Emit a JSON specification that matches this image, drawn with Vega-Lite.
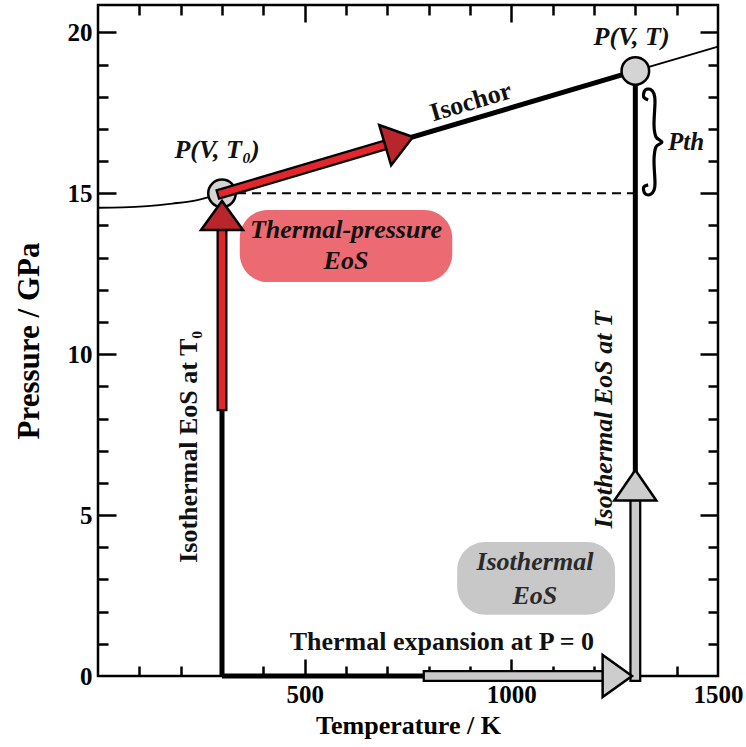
{
  "$schema": "https://vega.github.io/schema/vega-lite/v6.json",
  "width": 620,
  "height": 671,
  "autosize": {"type": "none"},
  "padding": {"left": 98, "top": 5, "right": 28, "bottom": 71},
  "background": "white",
  "config": {
    "view": {"stroke": "black", "strokeWidth": 2.5},
    "font": "Liberation Serif",
    "axis": {
      "domain": false, "grid": false, "tickColor": "black", "tickWidth": 2.5,
      "labelFont": "Liberation Serif", "labelFontSize": 25, "labelFontWeight": "bold", "labelColor": "black",
      "titleFont": "Liberation Serif", "titleFontWeight": "bold", "titleColor": "black",
      "labelFlush": false, "labelOverlap": false
    }
  },
  "datasets": {
    "curve": [
      {"T": 0, "P": 14.55}, {"T": 60, "P": 14.56}, {"T": 120, "P": 14.6}, {"T": 180, "P": 14.68},
      {"T": 240, "P": 14.79}, {"T": 300, "P": 15.0}, {"T": 1300, "P": 18.8}, {"T": 1500, "P": 19.56}
    ],
    "thick": [
      {"T": 300, "P": 0, "T2": 300, "P2": 15},
      {"T": 300, "P": 0, "T2": 800, "P2": 0},
      {"T": 300, "P": 15, "T2": 1300, "P2": 18.8},
      {"T": 1300, "P": 0, "T2": 1300, "P2": 18.8}
    ],
    "dash": [{"T": 300, "P": 15, "T2": 1300, "P2": 15}],
    "grayShaft": [
      {"T": 800, "P": 0, "T2": 1225, "P2": 0},
      {"T": 1300, "P": 0, "T2": 1300, "P2": 5.45}
    ],
    "redShaft": [
      {"T": 300, "P": 8.4, "T2": 300, "P2": 13.9},
      {"T": 300, "P": 15, "T2": 700, "P2": 16.52}
    ],
    "grayHeadUp": [{"T": 1300, "P": 6.4}],
    "grayHeadRight": [{"T": 1292, "P": 0}],
    "redHeadUp": [{"T": 300, "P": 14.76}],
    "redHeadSlant": [{"T": 762, "P": 16.75}],
    "circles": [{"T": 300, "P": 15}, {"T": 1300, "P": 18.8}],
    "redPill": [{"T": 343, "P": 14.48, "T2": 857, "P2": 12.24}],
    "grayPill": [{"T": 869, "P": 4.16, "T2": 1251, "P2": 1.9}],
    "brace": [
      {"o": 1, "T": 1331, "P": 17.9}, {"o": 2, "T": 1320, "P": 18.0}, {"o": 3, "T": 1323.4, "P": 18.2},
      {"o": 4, "T": 1336, "P": 18.23}, {"o": 5, "T": 1345.2, "P": 18.09}, {"o": 6, "T": 1347.6, "P": 17.84},
      {"o": 7, "T": 1345.2, "P": 17.12}, {"o": 8, "T": 1350, "P": 16.75}, {"o": 9, "T": 1364.5, "P": 16.59},
      {"o": 10, "T": 1350, "P": 16.44}, {"o": 11, "T": 1345.2, "P": 16.03}, {"o": 12, "T": 1347.6, "P": 15.32},
      {"o": 13, "T": 1345.2, "P": 15.1}, {"o": 14, "T": 1336, "P": 14.96}, {"o": 15, "T": 1323.4, "P": 14.99},
      {"o": 16, "T": 1320, "P": 15.18}, {"o": 17, "T": 1331, "P": 15.26}
    ],
    "italicLabels": [
      {"label": "P(V, T₀)", "T": 288, "P": 16.34},
      {"label": "P(V, T)", "T": 1291, "P": 19.87},
      {"label": "Thermal-pressure", "T": 600, "P": 13.86},
      {"label": "EoS", "T": 600, "P": 12.9}
    ],
    "grayLabels": [
      {"label": "Isothermal", "T": 1057, "P": 3.54},
      {"label": "EoS", "T": 1057, "P": 2.49}
    ],
    "pth": [{"label": "Pth", "T": 1379, "P": 16.58}],
    "expansion": [{"label": "Thermal expansion at P = 0", "T": 832, "P": 1.06}],
    "isochor": [{"label": "Isochor", "T": 902, "P": 17.84}],
    "isoT0": [{"label": "Isothermal EoS at T₀", "T": 220, "P": 7.12}],
    "isoT": [{"label": "Isothermal EoS at T", "T": 1224, "P": 7.96}]
  },
  "encoding": {
    "x": {"field": "T", "type": "quantitative", "scale": {"domain": [0, 1500], "nice": false, "zero": false}, "axis": null},
    "y": {"field": "P", "type": "quantitative", "scale": {"domain": [0, 20.85], "nice": false, "zero": false}, "axis": null}
  },
  "layer": [
    {
      "data": {"name": "redPill"},
      "mark": {"type": "rect", "color": "#ec6a72", "cornerRadius": 28},
      "encoding": {
        "x": {"field": "T", "type": "quantitative", "scale": {"domain": [0, 1500], "nice": false, "zero": false},
          "axis": {"orient": "bottom", "values": [500, 1000, 1500], "format": "d", "ticks": false, "labelPadding": 6, "title": "Temperature / K", "titleFontSize": 26, "titlePadding": 5}},
        "y": {"field": "P", "type": "quantitative", "scale": {"domain": [0, 20.85], "nice": false, "zero": false},
          "axis": {"orient": "left", "values": [0, 5, 10, 15, 20], "format": "d", "ticks": false, "labelPadding": 6, "title": "Pressure / GPa", "titleFontSize": 31, "titlePadding": 22}},
        "x2": {"field": "T2"},
        "y2": {"field": "P2"}
      }
    },
    {
      "data": {"name": "grayPill"},
      "mark": {"type": "rect", "color": "#c8c8c8", "cornerRadius": 28},
      "encoding": {
        "x": {"field": "T", "type": "quantitative", "scale": {"domain": [0, 1500], "nice": false, "zero": false},
          "axis": {"orient": "bottom", "values": [500, 1000], "labels": false, "tickSize": -17, "title": null}},
        "y": {"field": "P", "type": "quantitative", "scale": {"domain": [0, 20.85], "nice": false, "zero": false},
          "axis": {"orient": "left", "values": [5, 10, 15, 20], "labels": false, "tickSize": -18, "title": null}},
        "x2": {"field": "T2"},
        "y2": {"field": "P2"}
      }
    },
    {
      "data": {"name": "curve"},
      "mark": {"type": "line", "color": "black", "strokeWidth": 1.8, "interpolate": "monotone"},
      "encoding": {
        "x": {"field": "T", "type": "quantitative", "scale": {"domain": [0, 1500], "nice": false, "zero": false},
          "axis": {"orient": "bottom", "values": [100, 200, 300, 400, 600, 700, 800, 900, 1100, 1200, 1300, 1400], "labels": false, "tickSize": -10, "title": null}},
        "y": {"field": "P", "type": "quantitative", "scale": {"domain": [0, 20.85], "nice": false, "zero": false},
          "axis": {"orient": "left", "values": [1, 2, 3, 4, 6, 7, 8, 9, 11, 12, 13, 14, 16, 17, 18, 19], "labels": false, "tickSize": -10, "title": null}}
      }
    },
    {
      "data": {"name": "dash"},
      "mark": {"type": "rule", "color": "black", "strokeWidth": 2, "strokeDash": [9, 6]},
      "encoding": {
        "x": {"field": "T", "type": "quantitative", "scale": {"domain": [0, 1500], "nice": false, "zero": false},
          "axis": {"orient": "top", "values": [500, 1000], "labels": false, "tickSize": -17, "title": null}},
        "y": {"field": "P", "type": "quantitative", "scale": {"domain": [0, 20.85], "nice": false, "zero": false},
          "axis": {"orient": "right", "values": [5, 10, 15, 20], "labels": false, "tickSize": -18, "title": null}},
        "x2": {"field": "T2"},
        "y2": {"field": "P2"}
      }
    },
    {
      "data": {"name": "thick"},
      "mark": {"type": "rule", "color": "black", "strokeWidth": 5},
      "encoding": {
        "x": {"field": "T", "type": "quantitative", "scale": {"domain": [0, 1500], "nice": false, "zero": false},
          "axis": {"orient": "top", "values": [100, 200, 300, 400, 600, 700, 800, 900, 1100, 1200, 1300, 1400], "labels": false, "tickSize": -10, "title": null}},
        "y": {"field": "P", "type": "quantitative", "scale": {"domain": [0, 20.85], "nice": false, "zero": false},
          "axis": {"orient": "right", "values": [1, 2, 3, 4, 6, 7, 8, 9, 11, 12, 13, 14, 16, 17, 18, 19], "labels": false, "tickSize": -10, "title": null}},
        "x2": {"field": "T2"},
        "y2": {"field": "P2"}
      }
    },
    {
      "data": {"name": "brace"},
      "mark": {"type": "line", "color": "black", "strokeWidth": 3.2, "interpolate": "cardinal"},
      "encoding": {"order": {"field": "o", "type": "quantitative"}}
    },
    {
      "data": {"name": "grayShaft"},
      "mark": {"type": "rule", "color": "black", "strokeWidth": 12, "strokeCap": "square"},
      "encoding": {"x2": {"field": "T2"}, "y2": {"field": "P2"}}
    },
    {
      "data": {"name": "grayShaft"},
      "mark": {"type": "rule", "color": "#c9c9c9", "strokeWidth": 7.5, "strokeCap": "square"},
      "encoding": {"x2": {"field": "T2"}, "y2": {"field": "P2"}}
    },
    {
      "data": {"name": "grayHeadUp"},
      "mark": {"type": "point", "shape": "M0,0L-1,1.45L1,1.45Z", "size": 1764, "filled": true, "fill": "#cdcdcd", "stroke": "black", "strokeWidth": 2.5, "opacity": 1, "angle": 0},
      "encoding": {}
    },
    {
      "data": {"name": "grayHeadRight"},
      "mark": {"type": "point", "shape": "M0,0L-1,1.4L1,1.4Z", "size": 1764, "filled": true, "fill": "#cdcdcd", "stroke": "black", "strokeWidth": 2.5, "opacity": 1, "angle": 90},
      "encoding": {}
    },
    {
      "data": {"name": "circles"},
      "mark": {"type": "point", "shape": "circle", "size": 760, "filled": true, "fill": "#d4d4d4", "stroke": "black", "strokeWidth": 2.5, "opacity": 1},
      "encoding": {}
    },
    {
      "data": {"name": "redShaft"},
      "mark": {"type": "rule", "color": "black", "strokeWidth": 11, "strokeCap": "square"},
      "encoding": {"x2": {"field": "T2"}, "y2": {"field": "P2"}}
    },
    {
      "data": {"name": "redShaft"},
      "mark": {"type": "rule", "color": "#e3262b", "strokeWidth": 6.5, "strokeCap": "square"},
      "encoding": {"x2": {"field": "T2"}, "y2": {"field": "P2"}}
    },
    {
      "data": {"name": "redHeadUp"},
      "mark": {"type": "point", "shape": "M0,0L-1,1.38L1,1.38Z", "size": 1764, "filled": true, "fill": "#b8262c", "stroke": "black", "strokeWidth": 2.5, "opacity": 1, "angle": 0},
      "encoding": {}
    },
    {
      "data": {"name": "redHeadSlant"},
      "mark": {"type": "point", "shape": "M0,0L-1,1.38L1,1.38Z", "size": 1764, "filled": true, "fill": "#b8262c", "stroke": "black", "strokeWidth": 2.5, "opacity": 1, "angle": 73.5},
      "encoding": {}
    },
    {
      "data": {"name": "italicLabels"},
      "mark": {"type": "text", "font": "Liberation Serif", "fontSize": 26, "fontWeight": "bold", "fontStyle": "italic", "color": "#111", "baseline": "middle", "align": "center"},
      "encoding": {"text": {"field": "label"}}
    },
    {
      "data": {"name": "grayLabels"},
      "mark": {"type": "text", "font": "Liberation Serif", "fontSize": 26, "fontWeight": "bold", "fontStyle": "italic", "color": "#2a2a2a", "baseline": "middle", "align": "center"},
      "encoding": {"text": {"field": "label"}}
    },
    {
      "data": {"name": "pth"},
      "mark": {"type": "text", "font": "Liberation Serif", "fontSize": 25, "fontWeight": "bold", "fontStyle": "italic", "color": "#111", "baseline": "middle", "align": "left"},
      "encoding": {"text": {"field": "label"}}
    },
    {
      "data": {"name": "expansion"},
      "mark": {"type": "text", "font": "Liberation Serif", "fontSize": 26, "fontWeight": "bold", "color": "#111", "baseline": "middle", "align": "center"},
      "encoding": {"text": {"field": "label"}}
    },
    {
      "data": {"name": "isochor"},
      "mark": {"type": "text", "font": "Liberation Serif", "fontSize": 26, "fontWeight": "bold", "color": "#111", "baseline": "middle", "align": "center", "angle": -16.5},
      "encoding": {"text": {"field": "label"}}
    },
    {
      "data": {"name": "isoT0"},
      "mark": {"type": "text", "font": "Liberation Serif", "fontSize": 26, "fontWeight": "bold", "color": "#111", "baseline": "middle", "align": "center", "angle": -90},
      "encoding": {"text": {"field": "label"}}
    },
    {
      "data": {"name": "isoT"},
      "mark": {"type": "text", "font": "Liberation Serif", "fontSize": 26, "fontWeight": "bold", "fontStyle": "italic", "color": "#111", "baseline": "middle", "align": "center", "angle": -90},
      "encoding": {"text": {"field": "label"}}
    }
  ],
  "resolve": {"axis": {"x": "independent", "y": "independent"}}
}
